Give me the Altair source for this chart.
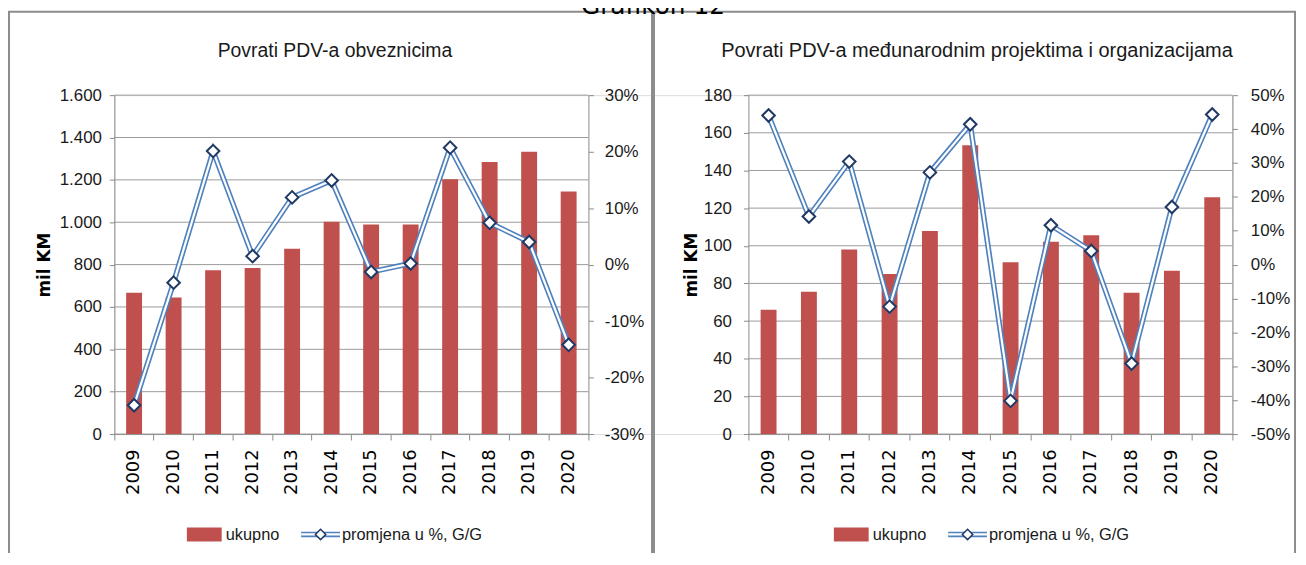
import altair as alt
import pandas as pd

# ---------------- data ----------------
years = ["2009", "2010", "2011", "2012", "2013", "2014",
         "2015", "2016", "2017", "2018", "2019", "2020"]

# Povrati PDV-a obveznicima (mil KM) and y/y change in %
obv_total = [667, 645, 773, 784, 875, 1002, 989, 989, 1203, 1284, 1333, 1145]
obv_change = [-24.9, -3.2, 20.1, 1.5, 11.9, 14.9, -1.3, 0.2, 20.7, 7.4, 4.0, -14.2]

# Povrati PDV-a medunarodnim projektima i organizacijama (mil KM) and y/y change in %
org_total = [66.0, 75.6, 98.0, 85.0, 107.8, 153.4, 91.2, 102.2, 105.6, 75.1, 86.7, 125.8]
org_change = [44.0, 14.2, 30.4, -12.4, 27.2, 41.4, -40.2, 11.6, 4.0, -29.2, 17.0, 44.3]

obv_ticks = [0, 200, 400, 600, 800, 1000, 1200, 1400, 1600]
obv_pct_ticks = [-30, -20, -10, 0, 10, 20, 30]
org_ticks = [0, 20, 40, 60, 80, 100, 120, 140, 160, 180]
org_pct_ticks = [-50, -40, -30, -20, -10, 0, 10, 20, 30, 40, 50]

header = "Grafikon 12"
titles = ["Povrati PDV-a obveznicima",
          "Povrati PDV-a međunarodnim projektima i organizacijama"]
legend_labels = ["ukupno", "promjena u %, G/G"]
y_title = "mil KM"

# ---------------- style ----------------
FONT = "Liberation Sans, Arial, sans-serif"
YEARFONT = "DejaVu Sans"
RED = "#C0504D"
BLUE = "#4F81BD"
NAVY = "#1F3864"
GRID = "#9a9a9a"
AXIS = "#8a8a8a"
BORDER = "#8c8c8c"
TXT = "#1a1a1a"
TICKFS = 17
LEGFS = 16.5

W, H = 1125, 341
ONE = pd.DataFrame({"k": [0]})


def panel(total, change, ticks, pct_ticks, xr, left_off, right_off, title_x,
          pad_l, pad_r, thousands):
    df = pd.DataFrame({"year": years, "total": total, "change": change})
    gdf = pd.DataFrame({"v": ticks})

    xs = alt.Scale(domain=years, range=xr, paddingInner=0, paddingOuter=0)
    xax = alt.Axis(orient="bottom", title=None, labelAngle=270, labelFont=YEARFONT,
                   labelFontSize=18, labelColor="black", tickSize=6, tickColor=AXIS,
                   domainColor=AXIS, tickWidth=1, domainWidth=1, bandPosition=1,
                   tickExtra=True, labelPadding=9, grid=False, labelOverlap=False)
    x = alt.X("year:N", scale=xs, axis=xax)

    if thousands:
        lexpr = "replace(format(datum.value, ','), ',', '.')"
    else:
        lexpr = "format(datum.value, 'd')"
    ys = alt.Scale(domain=[ticks[0], ticks[-1]], nice=False, zero=False)
    yax = alt.Axis(orient="left", offset=left_off, values=ticks, title=y_title,
                   titleFont=YEARFONT, titleFontSize=17, titleFontWeight="bold",
                   titleColor="black", titleAngle=270, titleX=title_x, titleY=H / 2,
                   titleAlign="center", titleBaseline="middle",
                   labelFont=FONT, labelFontSize=TICKFS, labelColor=TXT, labelExpr=lexpr,
                   tickSize=5, tickColor=AXIS, domainColor=AXIS, labelPadding=pad_l,
                   grid=False)

    ps = alt.Scale(domain=[pct_ticks[0], pct_ticks[-1]], nice=False, zero=False)
    pax = alt.Axis(orient="right", offset=right_off, values=pct_ticks, title=None,
                   labelFont=FONT, labelFontSize=TICKFS, labelColor=TXT,
                   labelExpr="datum.value + '%'", tickSize=5, tickColor=AXIS,
                   domainColor=AXIS, labelPadding=pad_r, grid=False)

    grid = alt.Chart(gdf).mark_rule(color=GRID, strokeWidth=1).encode(
        y=alt.Y("v:Q", scale=ys, axis=yax),
        x=alt.value(xr[0]), x2=alt.value(xr[1]))
    bars = alt.Chart(df).mark_bar(color=RED, width=16).encode(
        x=x, y=alt.Y("total:Q", scale=ys, axis=yax))

    yp = alt.Y("change:Q", scale=ps, axis=pax)
    line_o = alt.Chart(df).mark_line(color=BLUE, strokeWidth=5.5, strokeMiterLimit=4).encode(x=x, y=yp)
    line_i = alt.Chart(df).mark_line(color="white", strokeWidth=2.2, strokeMiterLimit=4).encode(x=x, y=yp)
    pts = alt.Chart(df).mark_point(shape="diamond", filled=True, fill="white", stroke=NAVY,
                                   strokeWidth=2, size=160, opacity=1).encode(x=x, y=yp)

    return alt.layer(alt.layer(grid, bars),
                     alt.layer(line_o, line_i, pts)).resolve_scale(y="independent")


def text_at(txt, x, y, size, font=FONT, align="left", color=TXT, weight="normal"):
    return alt.Chart(ONE).mark_text(text=txt, font=font, fontSize=size, align=align,
                                    baseline="alphabetic", color=color,
                                    fontWeight=weight).encode(x=alt.value(x), y=alt.value(y))


def border(x1, x2):
    return alt.Chart(ONE).mark_rect(filled=False, stroke=BORDER, strokeWidth=2).encode(
        x=alt.value(x1), x2=alt.value(x2), y=alt.value(-84), y2=alt.value(520))


def legend(dx):
    r = alt.Chart(ONE).mark_rect(color=RED).encode(
        x=alt.value(73 + dx), x2=alt.value(108 + dx), y=alt.value(435), y2=alt.value(449))
    l1 = alt.Chart(ONE).mark_rule(color=BLUE, strokeWidth=5.5).encode(
        x=alt.value(188 + dx), x2=alt.value(227 + dx), y=alt.value(442))
    l2 = alt.Chart(ONE).mark_rule(color="white", strokeWidth=2.2).encode(
        x=alt.value(188 + dx), x2=alt.value(227 + dx), y=alt.value(442))
    d = alt.Chart(ONE).mark_point(shape="diamond", filled=True, fill="white", stroke=NAVY,
                                  strokeWidth=1.5, size=110, opacity=1).encode(
        x=alt.value(207.5 + dx), y=alt.value(442))
    t1 = text_at(legend_labels[0], 112 + dx, 448, LEGFS)
    t2 = text_at(legend_labels[1], 229 + dx, 448, LEGFS)
    return [r, l1, l2, d, t1, t2]


left = panel(obv_total, obv_change, obv_ticks, obv_pct_ticks, [0, 477], 0, -648,
             -70, 8, 11, True)
right = panel(org_total, org_change, org_ticks, org_pct_ticks, [638, 1125], -638, 0,
              -57, 12, 13, False)

deco = [border(-106, 541), border(543, 1188),
        text_at(header, 542, -82, 25, font=YEARFONT, align="center", color="black"),
        text_at(titles[0], 222, -38, 19.5, align="center"),
        text_at(titles[1], 868, -38, 20.1, align="center")]

chart = alt.layer(*deco, left, right, *legend(0), *legend(651)).resolve_scale(
    x="independent", y="independent"
).properties(
    width=W, height=H,
    autosize=alt.AutoSizeParams(type="none"),
    padding={"left": 107, "top": 86, "right": 66, "bottom": 118},
).configure_view(strokeWidth=0).configure(background="white")

chart.save("out.html", embed_options={"renderer": "svg", "actions": False})
